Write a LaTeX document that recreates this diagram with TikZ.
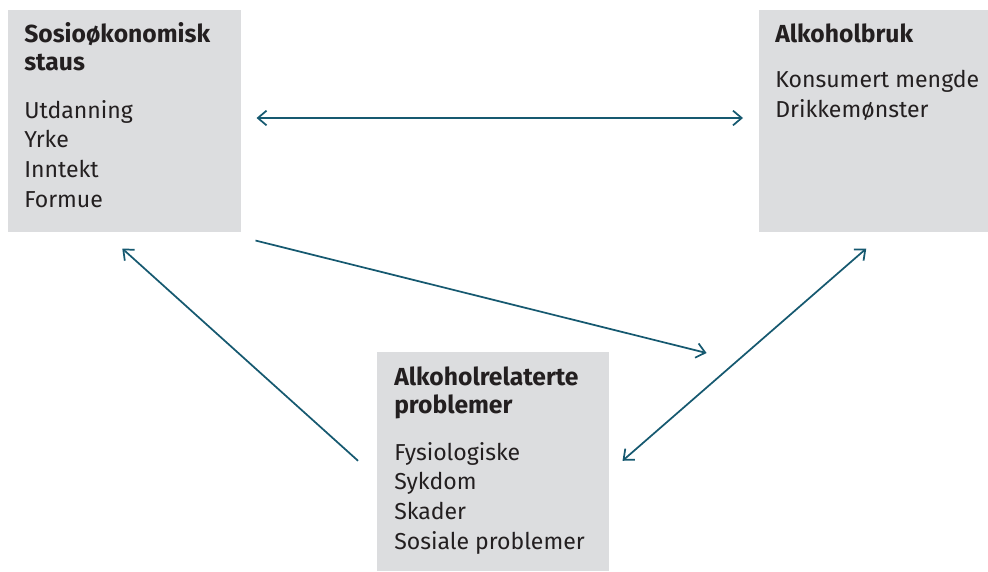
\documentclass[tikz,border=0pt]{standalone}
\usepackage{fontspec}
\setmainfont{Fira Sans}
\usetikzlibrary{positioning,calc}
\usetikzlibrary{arrows.meta}
\definecolor{BoxGray}{RGB}{220,221,223}
\definecolor{LinkTeal}{RGB}{22,89,112}
\definecolor{TextDark}{RGB}{35,31,32}
\tikzset{
  box/.style={fill=BoxGray,draw=none,anchor=north west,inner sep=0pt},
  head/.style={anchor=base west,inner sep=0pt,align=left,text=TextDark,
    font=\bfseries\fontsize{18.5}{20.3}\selectfont},
  body/.style={anchor=base west,inner sep=0pt,align=left,text=TextDark,
    font=\fontsize{17.3}{22.2}\selectfont},
  link/.style={draw=LinkTeal,line width=1.3pt,>={Straight Barb[length=6.5pt,width=11pt]}},
}

\begin{document}
\begin{tikzpicture}[x=0.75pt,y=-0.75pt]
\useasboundingbox (0,0) rectangle (988,571);
\node[box,minimum width=174.75pt,minimum height=166.5pt] (ses) at (8,10) {};
\node[box,minimum width=171.75pt,minimum height=166.5pt] (alk) at (759,10) {};
\node[box,minimum width=174pt,minimum height=164.25pt] (prob) at (377,352) {};
% the base of a text block is its last line
\node[head] (seshead) at ($(ses.north west)+(16,60)$) {Sosioøkonomisk\\staus};
\node[body] (sesbody) at ($(ses.north west)+(16,197)$) {Utdanning\\Yrke\\Inntekt\\Formue};
\node[head] (alkhead) at ($(alk.north west)+(16,32)$) {Alkoholbruk};
\node[body] (alkbody) at ($(alk.north west)+(16,107)$) {Konsumert mengde\\Drikkemønster};
\node[head] (probhead) at ($(prob.north west)+(17,61)$) {Alkoholrelaterte\\problemer};
\node[body] (probbody) at ($(prob.north west)+(17,197)$) {Fysiologiske\\Sykdom\\Skader\\Sosiale problemer};
\draw[link,<->] ($(ses.north east)+(15,108)$) -- ($(alk.north west)+(-16,108)$);
\draw[link,->] ($(ses.south east)+(14,8)$) -- ($(prob.north east)+(97,1)$);
\draw[link,->] ($(prob.west)+(-19,-1)$) -- ($(ses.south)+(-2.5,16)$);
\draw[link,<->] ($(prob.east)+(13,-1)$) -- ($(alk.south)+(-7.5,16)$);
\end{tikzpicture}
\end{document}
